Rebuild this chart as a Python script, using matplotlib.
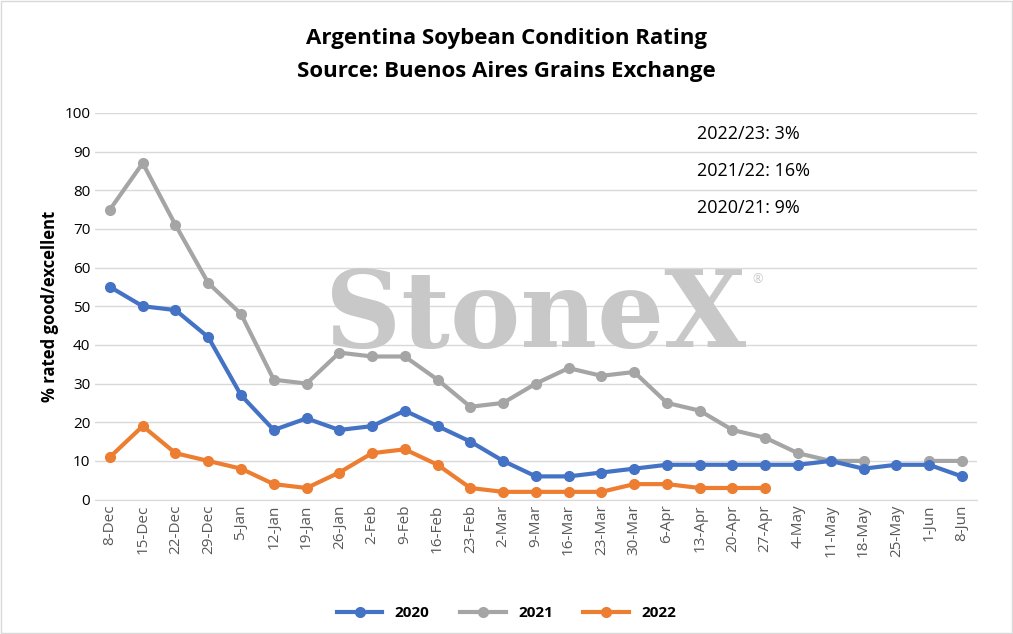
import matplotlib.pyplot as plt
import numpy as np

plt.rcParams['font.family'] = ['Open Sans', 'DejaVu Sans']

dates = ["8-Dec", "15-Dec", "22-Dec", "29-Dec", "5-Jan", "12-Jan", "19-Jan", "26-Jan", "2-Feb", "9-Feb",
         "16-Feb", "23-Feb", "2-Mar", "9-Mar", "16-Mar", "23-Mar", "30-Mar", "6-Apr", "13-Apr", "20-Apr",
         "27-Apr", "4-May", "11-May", "18-May", "25-May", "1-Jun", "8-Jun"]
s2020 = [55, 50, 49, 42, 27, 18, 21, 18, 19, 23, 19, 15, 10, 6, 6, 7, 8, 9, 9, 9, 9, 9, 10, 8, 9, 9, 6]
s2021 = [75, 87, 71, 56, 48, 31, 30, 38, 37, 37, 31, 24, 25, 30, 34, 32, 33, 25, 23, 18, 16, 12, 10, 10,
         np.nan, 10, 10]
s2022 = [11, 19, 12, 10, 8, 4, 3, 7, 12, 13, 9, 3, 2, 2, 2, 2, 4, 4, 3, 3, 3]
notes = ["2022/23: 3%", "2021/22: 16%", "2020/21: 9%"]

fig = plt.figure(figsize=(10.13, 6.34), dpi=100)
ax = fig.add_axes([0.094, 0.212, 0.87, 0.61])
x = np.arange(len(dates))
ax.plot(x, s2020, color='#4472C4', lw=3, marker='o', ms=7, label='2020', zorder=3)
ax.plot(x, s2021, color='#A5A5A5', lw=3, marker='o', ms=7, label='2021', zorder=2)
ax.plot(x[:len(s2022)], s2022, color='#ED7D31', lw=3, marker='o', ms=7, label='2022', zorder=4)

ax.set_ylim(0, 100)
ax.set_yticks(range(0, 101, 10))
ax.set_xlim(-0.45, len(dates) - 0.55)
ax.set_xticks(x)
ax.set_xticklabels(dates, rotation=90, fontsize=11, color='#595959')
ax.tick_params(axis='y', labelsize=11, colors='#000000', length=0)
ax.tick_params(axis='x', length=0)
ax.grid(axis='y', color='#D9D9D9', lw=1)
ax.set_axisbelow(True)
for s in ['top', 'right', 'left']:
    ax.spines[s].set_visible(False)
ax.spines['bottom'].set_color('#D9D9D9')
ax.set_ylabel('% rated good/excellent', fontsize=12, fontweight='bold')

ax.text(0.5, 0.47, 'StoneX', transform=ax.transAxes, fontsize=76, family='DejaVu Serif',
        fontweight='bold', color='#C8C8C8', ha='center', va='center', zorder=1)
ax.text(0.746, 0.56, '®', transform=ax.transAxes, fontsize=9, color='#C8C8C8', zorder=1)

for i, n in enumerate(notes):
    fig.text(0.688, 0.788 - i * 0.058, n, fontsize=13, va='center')

fig.text(0.5, 0.94, 'Argentina Soybean Condition Rating', ha='center', va='center',
         fontsize=16, fontweight='bold')
fig.text(0.5, 0.888, 'Source: Buenos Aires Grains Exchange', ha='center', va='center',
         fontsize=16, fontweight='bold')
fig.legend(loc='lower center', bbox_to_anchor=(0.5, 0.0), ncol=3, frameon=False,
           prop={'size': 11, 'weight': 'bold'}, handlelength=3)
fig.add_artist(plt.Rectangle((0.001, 0.001), 0.998, 0.998, transform=fig.transFigure,
                             fill=False, edgecolor='#D9D9D9', lw=1))
fig.savefig('out.png', dpi=100)
